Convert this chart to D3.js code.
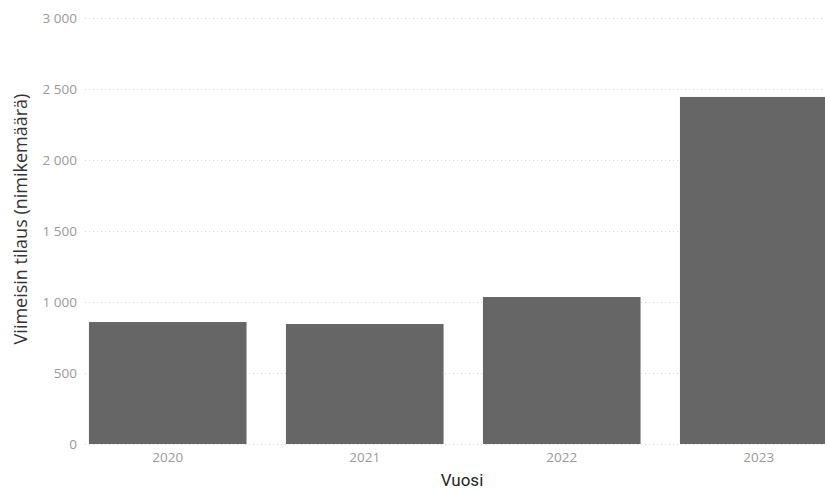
<!DOCTYPE html>
<html>
<head>
<meta charset="utf-8">
<script src="https://cdn.jsdelivr.net/npm/d3@7"></script>
<style>
  html, body { margin: 0; padding: 0; background: #fff; overflow: hidden; }
  svg { display: block; }
</style>
</head>
<body>
<svg id="chart" width="825" height="491"></svg>
<script>
// Latest order size (number of titles) per year
const years = ["2020", "2021", "2022", "2023"];
const orderCounts = [859, 845, 1035, 2444];
const yTicks = [0, 500, 1000, 1500, 2000, 2500, 3000];

const svg = d3.select("#chart");
const W = 825, H = 491;
const plotLeft = 85, plotRight = 841.5, plotTop = 18, plotBottom = 444;

const x = d3.scaleBand()
  .domain(years)
  .range([plotLeft, plotRight])
  .paddingInner(0.2)
  .paddingOuter(0.02);

const y = d3.scaleLinear()
  .domain([0, 3000])
  .range([plotBottom, plotTop]);

const fmt = v => d3.format(",")(v).replace(/,/g, " ");
const tickFont = "'Segoe UI', 'Open Sans', 'DejaVu Sans', sans-serif";

// Dotted horizontal gridlines
svg.append("g")
  .selectAll("line")
  .data(yTicks)
  .join("line")
  .attr("x1", plotLeft)
  .attr("x2", W)
  .attr("y1", d => Math.round(y(d)) + 0.5)
  .attr("y2", d => Math.round(y(d)) + 0.5)
  .attr("stroke", "#d6d6d6")
  .attr("stroke-width", 1)
  .attr("stroke-dasharray", "1,3");

// Y axis (labels only)
const yAxis = svg.append("g")
  .attr("transform", `translate(${plotLeft - 8},0)`)
  .call(d3.axisLeft(y).tickValues(yTicks).tickFormat(fmt).tickSize(0).tickPadding(0));
yAxis.select(".domain").remove();
yAxis.selectAll("text")
  .attr("fill", "#999")
  .style("font-family", tickFont)
  .style("font-size", "13.5px");

// Bars
svg.append("g")
  .selectAll("rect")
  .data(years.map((yr, i) => ({ yr, v: orderCounts[i] })))
  .join("rect")
  .attr("x", d => x(d.yr))
  .attr("y", d => y(d.v))
  .attr("width", x.bandwidth())
  .attr("height", d => y(0) - y(d.v))
  .attr("fill", "#666666");

// X axis (labels only)
const xAxis = svg.append("g")
  .attr("transform", `translate(0,${plotBottom + 5})`)
  .call(d3.axisBottom(x).tickSize(0).tickPadding(3));
xAxis.select(".domain").remove();
xAxis.selectAll("text")
  .attr("fill", "#999")
  .style("font-family", tickFont)
  .style("font-size", "13.5px");

// Axis titles
svg.append("text")
  .attr("x", 462)
  .attr("y", 486)
  .attr("text-anchor", "middle")
  .attr("fill", "#252525")
  .style("font-family", "'DIN', 'Roboto', sans-serif")
  .style("font-size", "17px")
  .text("Vuosi");

svg.append("text")
  .attr("transform", "translate(27,219) rotate(-90)")
  .attr("text-anchor", "middle")
  .attr("fill", "#333")
  .style("font-family", "'Segoe UI', 'Open Sans', sans-serif")
  .style("font-size", "18px")
  .text("Viimeisin tilaus (nimikemäärä)");
</script>
</body>
</html>
